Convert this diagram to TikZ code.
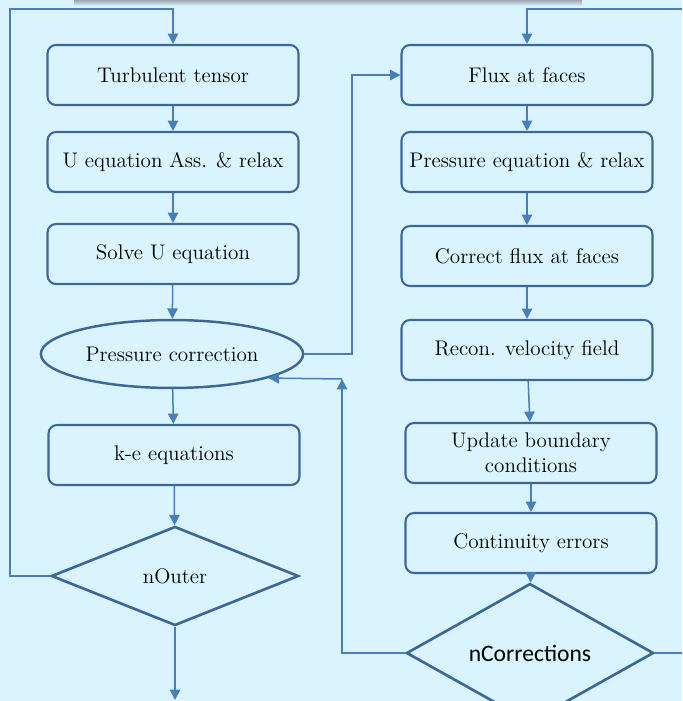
\documentclass[tikz,border=0pt]{standalone}
\usepackage{fontspec}
\newfontfamily\calib{Carlito}
\usetikzlibrary{arrows.meta,shapes.geometric}
\definecolor{bg}{HTML}{D9F4FE}
\definecolor{edge}{HTML}{3D6798}
\definecolor{link}{HTML}{4A7EBB}
\definecolor{bar}{HTML}{9EA8AE}
\tikzset{
  stepbox/.style={draw=edge, fill=bg, line width=1.1pt, rounded corners=4.5pt, minimum width=133pt, minimum height=31.8pt, inner sep=2pt, align=center, font=\fontsize{11.2}{13}\selectfont},
  oval/.style={ellipse, draw=edge, fill=bg, line width=1.3pt, minimum width=139pt, minimum height=36pt, inner sep=0pt, font=\fontsize{11.2}{13}\selectfont},
  test/.style={diamond, draw=edge, fill=bg, line width=1.4pt, minimum width=131pt, minimum height=52.5pt, inner sep=0pt, font=\fontsize{11.2}{13}\selectfont},
  wire/.style={draw=link, line width=0.8pt},
  link/.style={wire, -{Triangle[length=5.5pt,width=5.5pt]}},
}

\begin{document}
\begin{tikzpicture}[x=0.53pt,y=-0.53pt]
  \fill[bg] (0,0) rectangle (682,701);
  \useasboundingbox (0,0) rectangle (682,701);
  \clip (0,0) rectangle (682,701);
  \shade[top color=bar, bottom color=bg] (74,0) rectangle (582,6);

  % left column
  \node[stepbox] (turb) at (173,75) {Turbulent tensor};
  \node[stepbox] (ueqn) at (173,162) {U equation Ass. \& relax};
  \node[stepbox] (usol) at (173,254) {Solve U equation};
  \node[oval] (pcor) at (172,354) {Pressure correction};
  \node[stepbox] (keqn) at (174,455) {k-e equations};
  \node[test] (nout) at (175,576) {nOuter};

  % right column
  \node[stepbox] (flux) at (527,75) {Flux at faces};
  \node[stepbox] (peqn) at (527,162) {Pressure equation \& relax};
  \node[stepbox] (cflx) at (527,256) {Correct flux at faces};
  \node[stepbox] (recon) at (527,350) {Recon. velocity field};
  \node[stepbox] (bcs) at (531,453) {Update boundary\\conditions};
  \node[stepbox] (cont) at (531,543) {Continuity errors};
  \node[test, font=\calib\fontsize{12.5}{14}\selectfont] (ncor) at (530,653) {nCorrections};

  \foreach \a/\b in {turb/ueqn,ueqn/usol,usol/pcor,pcor/keqn,keqn/nout,
                     flux/peqn,peqn/cflx,cflx/recon,recon/bcs,bcs/cont,cont/ncor}
    \draw[link] (\a) -- (\b);

  % outer loop
  \coordinate (ltop) at (10,9);
  \coordinate (lin) at (173,9);
  \coordinate (exit) at (175,700);
  \draw[link] (nout.west) -| (ltop) -- (lin) -- (turb.north);
  \draw[link] (nout.south) -- (exit);

  % pressure correction to flux
  \coordinate (fx) at (352,0);
  \draw[link] (pcor.east) -| (fx |- flux.west) -- (flux.west);

  % corrector loop
  \coordinate (rout) at (692,653);
  \coordinate (rin) at (527,9);
  \draw[link] (ncor.east) -- (rout) |- (rin) -- (flux.north);
  \coordinate (back) at (342,379);
  \draw[link] (ncor.west) -| (back);
  \draw[link] (back) -- (pcor.-14);
\end{tikzpicture}
\end{document}
